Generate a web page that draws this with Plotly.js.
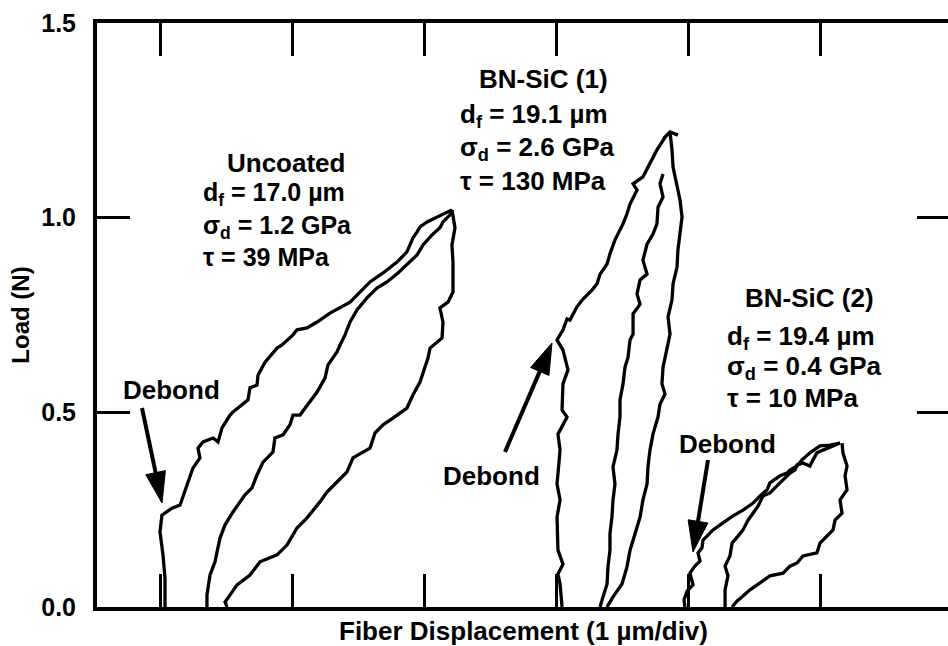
<!DOCTYPE html>
<html>
<head>
<meta charset="utf-8">
<script src="https://cdn.plot.ly/plotly-3.0.1.min.js"></script>
<style>
html,body{margin:0;padding:0;overflow:hidden;background:#fff;}
#chart{width:952px;height:646px;}
</style>
</head>
<body>
<div id="chart"></div>
<script>
// ---- Data (x in displacement divisions, y in N) ----
// Uncoated specimen
const uncLoadX   = [1.034,1.034,1.019,0.996,1.011,1.087,1.148,1.170,1.201,1.246,1.299,1.284,1.322,1.398,1.436,1.466,1.527,1.549,1.587,1.663,1.678,1.731,1.739,1.792,1.883,1.920,2.004,2.034,2.110,2.186,2.284,2.360,2.436,2.511,2.587,2.686,2.792,2.867,2.913,2.943,2.966,3.019,3.095,3.170,3.208];
const uncLoadY   = [0.000,0.074,0.134,0.193,0.236,0.254,0.262,0.283,0.313,0.357,0.383,0.408,0.424,0.434,0.424,0.460,0.493,0.501,0.511,0.532,0.563,0.570,0.596,0.629,0.665,0.673,0.699,0.712,0.717,0.732,0.755,0.768,0.783,0.809,0.835,0.858,0.886,0.912,0.948,0.963,0.976,0.989,1.002,1.015,1.020];
const uncMidX    = [3.208,3.193,3.140,3.117,3.057,2.989,2.943,2.890,2.799,2.716,2.640,2.564,2.489,2.436,2.398,2.360,2.337,2.269,2.246,2.186,2.133,2.057,2.004,1.981,1.928,1.867,1.852,1.777,1.731,1.693,1.640,1.602,1.549,1.489,1.451,1.428,1.413,1.375,1.352,1.352];
const uncMidY    = [1.020,1.007,0.989,0.974,0.956,0.930,0.904,0.886,0.858,0.835,0.819,0.794,0.763,0.732,0.699,0.673,0.655,0.622,0.588,0.552,0.527,0.493,0.493,0.468,0.442,0.434,0.398,0.372,0.339,0.306,0.288,0.270,0.244,0.211,0.177,0.141,0.116,0.082,0.031,0.000];
const uncRightX  = [3.208,3.231,3.208,3.216,3.216,3.178,3.117,3.140,3.133,3.042,3.027,3.004,2.966,2.913,2.867,2.761,2.686,2.625,2.587,2.458,2.413,2.337,2.261,2.208,2.110,2.034,1.958,1.883,1.754,1.678,1.580,1.527,1.489,1.504];
const uncRightY  = [1.020,0.974,0.930,0.886,0.809,0.783,0.768,0.732,0.691,0.665,0.640,0.614,0.578,0.545,0.511,0.485,0.468,0.447,0.408,0.383,0.347,0.321,0.295,0.270,0.229,0.203,0.159,0.134,0.116,0.082,0.057,0.031,0.013,0.000];

// BN-SiC (1)
const bn1LoadX   = [4.042,4.027,4.011,4.049,4.011,4.004,4.027,4.004,4.027,4.011,4.080,4.042,4.049,4.087,4.049,4.004,4.049,4.080,4.102,4.125,4.155,4.201,4.269,4.307,4.330,4.383,4.405,4.443,4.504,4.534,4.557,4.610,4.580,4.655,4.693,4.731,4.761,4.799,4.822,4.860,4.920];
const bn1LoadY   = [0.000,0.059,0.085,0.110,0.146,0.231,0.275,0.316,0.403,0.444,0.488,0.506,0.573,0.609,0.660,0.686,0.712,0.740,0.737,0.753,0.771,0.791,0.814,0.830,0.855,0.881,0.907,0.943,0.984,1.010,1.035,1.071,1.087,1.105,1.130,1.156,1.174,1.194,1.207,1.220,1.212];
const bn1MidX    = [4.807,4.784,4.807,4.769,4.761,4.731,4.686,4.655,4.686,4.633,4.610,4.633,4.580,4.580,4.557,4.542,4.519,4.504,4.481,4.481,4.466,4.458,4.428,4.443,4.428,4.420,4.405,4.405,4.390,4.383,4.352,4.330];
const bn1MidY    = [1.112,1.087,1.053,1.027,0.984,0.958,0.932,0.891,0.855,0.840,0.804,0.778,0.753,0.701,0.686,0.642,0.616,0.573,0.532,0.488,0.444,0.403,0.360,0.316,0.275,0.231,0.188,0.146,0.103,0.059,0.026,0.000];
const bn1RightX  = [4.860,4.875,4.883,4.913,4.936,4.951,4.936,4.920,4.913,4.883,4.875,4.845,4.860,4.837,4.807,4.799,4.822,4.784,4.769,4.731,4.708,4.693,4.686,4.655,4.633,4.595,4.557,4.534,4.496,4.428,4.383];
const bn1RightY  = [1.220,1.174,1.130,1.087,1.045,1.002,0.958,0.917,0.873,0.830,0.789,0.745,0.701,0.660,0.616,0.573,0.547,0.521,0.488,0.444,0.403,0.360,0.316,0.275,0.231,0.188,0.146,0.103,0.059,0.026,0.000];

// BN-SiC (2)
const bn2LoadX   = [4.973,4.966,4.989,5.034,5.011,5.049,5.087,5.072,5.102,5.110,5.140,5.186,5.261,5.337,5.413,5.489,5.542,5.595,5.617,5.693,5.746,5.769,5.822,5.860,5.920,5.996,6.072,6.148];
const bn2LoadY   = [0.000,0.018,0.041,0.057,0.087,0.105,0.118,0.139,0.152,0.172,0.182,0.198,0.216,0.234,0.249,0.267,0.285,0.301,0.319,0.337,0.344,0.352,0.362,0.378,0.396,0.414,0.416,0.421];
const bn2MidX    = [5.277,5.277,5.299,5.277,5.314,5.330,5.375,5.413,5.451,5.489,5.527,5.564,5.617,5.670,5.716,5.769,5.807,5.822,5.867,5.920,5.943,5.973,6.019,6.095,6.148];
const bn2MidY    = [0.000,0.044,0.080,0.105,0.131,0.164,0.182,0.198,0.223,0.241,0.259,0.285,0.293,0.311,0.326,0.344,0.352,0.365,0.370,0.362,0.378,0.396,0.403,0.414,0.421];
const bn2RightX  = [6.163,6.170,6.201,6.186,6.201,6.148,6.163,6.110,6.095,6.049,5.996,5.973,5.867,5.822,5.769,5.716,5.617,5.542,5.466,5.413,5.367,5.330];
const bn2RightY  = [0.421,0.396,0.362,0.337,0.301,0.275,0.241,0.223,0.198,0.182,0.164,0.139,0.131,0.113,0.105,0.087,0.080,0.062,0.044,0.028,0.015,0.000];

// Axis ticks
const xTickVals  = [1,2,3,4,5,6];
const yTickVals  = [0,0.5,1.0,1.5];
const yTickText  = ['0.0','0.5','1.0','1.5'];

// Labels
const headers    = ['Uncoated','BN-SiC (1)','BN-SiC (2)'];
const uncBody    = 'd<sub>f</sub> = 17.0 µm<br>σ<sub>d</sub> = 1.2 GPa<br>τ = 39 MPa';
const bodyLines  = [
  ['d<sub>f</sub> = 19.1 µm','σ<sub>d</sub> = 2.6 GPa','τ = 130 MPa'],
  ['d<sub>f</sub> = 19.4 µm','σ<sub>d</sub> = 0.4 GPa','τ = 10 MPa']
];
const debondText = 'Debond';

// ---- Layout geometry ----
const W = 952, H = 646;
const M = {l:97, r:2, t:23, b:39};
const xRange = [0.519, 6.981];
const yRange = [0, 1.5];
const sx = (W - M.l - M.r) / (xRange[1] - xRange[0]);   // px per x unit
const sy = (H - M.t - M.b) / (yRange[1] - yRange[0]);   // px per y unit

// ---- Build traces ----
function joinBranches(...branches){
  const out = [];
  branches.forEach((b,i)=>{ if(i>0) out.push(null); out.push(...b); });
  return out;
}
const lineStyle = {color:'#000', width:3.3};
const traces = [
  {x: joinBranches(uncLoadX, uncMidX, uncRightX), y: joinBranches(uncLoadY, uncMidY, uncRightY)},
  {x: joinBranches(bn1LoadX, bn1MidX, bn1RightX), y: joinBranches(bn1LoadY, bn1MidY, bn1RightY)},
  {x: joinBranches(bn2LoadX, bn2MidX, bn2RightX), y: joinBranches(bn2LoadY, bn2MidY, bn2RightY)}
].map(t => Object.assign(t, {type:'scatter', mode:'lines', line:lineStyle, connectgaps:false, hoverinfo:'skip', showlegend:false}));

const F = 'Liberation Sans, Arial, Helvetica, sans-serif';
const txtFont = {family:F, size:26, color:'#000', weight:700};

// text anchor positions
const headerPos = [[1.4886,1.185],[3.3977,1.401],[5.4129,0.8386]];
const uncBodyPos = [1.3144, 0.983];
const bodyX     = [3.2538, 5.2765];
const bodyTops  = [[1.309,1.226,1.139],[0.741,0.6638,0.5816]];
const debondPos = [[1.0871,0.6023],[3.5076,0.3814],[5.2917,0.4611]];
// arrow tips (data) with tail offsets in px (screen: +x right, +y down)
const arrows    = [[1.0114,0.2671,-20,-95],[3.9659,0.6781,-47,109],[5.0341,0.1413,15,-92]];

const annotations = [];
headers.forEach((h,i)=>annotations.push({x:headerPos[i][0], y:headerPos[i][1], xref:'x', yref:'y', text:h, showarrow:false, xanchor:'left', yanchor:'top', font:txtFont}));
annotations.push({x:uncBodyPos[0], y:uncBodyPos[1], xref:'x', yref:'y', text:uncBody, showarrow:false, xanchor:'left', yanchor:'middle', align:'left', borderpad:0, font:Object.assign({}, txtFont, {size:25})});
bodyLines.forEach((lines,i)=>lines.forEach((t,j)=>annotations.push({x:bodyX[i], y:bodyTops[i][j], xref:'x', yref:'y', text:t, showarrow:false, xanchor:'left', yanchor:'top', font:txtFont})));
debondPos.forEach(p=>annotations.push({x:p[0], y:p[1], xref:'x', yref:'y', text:debondText, showarrow:false, xanchor:'center', yanchor:'top', font:txtFont}));

// arrows drawn as shapes: shaft + slim filled head
const shapes = [];
const HEAD_LEN = 31, HEAD_HALF = 10;
arrows.forEach(([tx,ty,ax,ay])=>{
  const len = Math.hypot(ax, ay);
  const ux = -ax/len, uy = -ay/len;            // tail -> tip direction (px)
  const bx = -ux*HEAD_LEN, by = -uy*HEAD_LEN;  // head base centre relative to tip (px)
  const px = -uy, py = ux;                     // perpendicular
  const toX = d => tx + d/sx, toY = d => ty - d/sy;
  shapes.push({type:'line', xref:'x', yref:'y',
    x0:toX(ax), y0:toY(ay), x1:toX(bx*0.9), y1:toY(by*0.9),
    line:{color:'#000', width:4}});
  const p1 = [toX(bx + px*HEAD_HALF), toY(by + py*HEAD_HALF)];
  const p2 = [toX(bx - px*HEAD_HALF), toY(by - py*HEAD_HALF)];
  shapes.push({type:'path', xref:'x', yref:'y',
    path:`M${tx},${ty} L${p1[0]},${p1[1]} L${p2[0]},${p2[1]} Z`,
    fillcolor:'#000', line:{color:'#000', width:1}});
});

const axisCommon = {
  showline:true, linecolor:'#000', linewidth:4, mirror:'ticks',
  ticks:'inside', ticklen:33, tickwidth:3, tickcolor:'#000',
  showgrid:false, zeroline:false, fixedrange:true
};

const layout = {
  width:W, height:H,
  margin:M,
  paper_bgcolor:'#fff', plot_bgcolor:'#fff',
  font:{family:F, size:24, color:'#000', weight:700},
  showlegend:false,
  xaxis: Object.assign({}, axisCommon, {
    range:xRange, tickvals:xTickVals, showticklabels:false,
    title:{text:'Fiber Displacement (1 µm/div)', font:{family:F, size:26, color:'#000', weight:700}, standoff:14}
  }),
  yaxis: Object.assign({}, axisCommon, {
    range:yRange, tickvals:yTickVals, ticktext:yTickText,
    tickfont:{family:F, size:25, color:'#000', weight:700}, ticklabelstandoff:12,
    title:{text:'Load (N)', font:{family:F, size:24, color:'#000', weight:700}, standoff:6}
  }),
  annotations: annotations,
  shapes: shapes
};

Plotly.newPlot('chart', traces, layout, {displayModeBar:false, staticPlot:true});
</script>
</body>
</html>
